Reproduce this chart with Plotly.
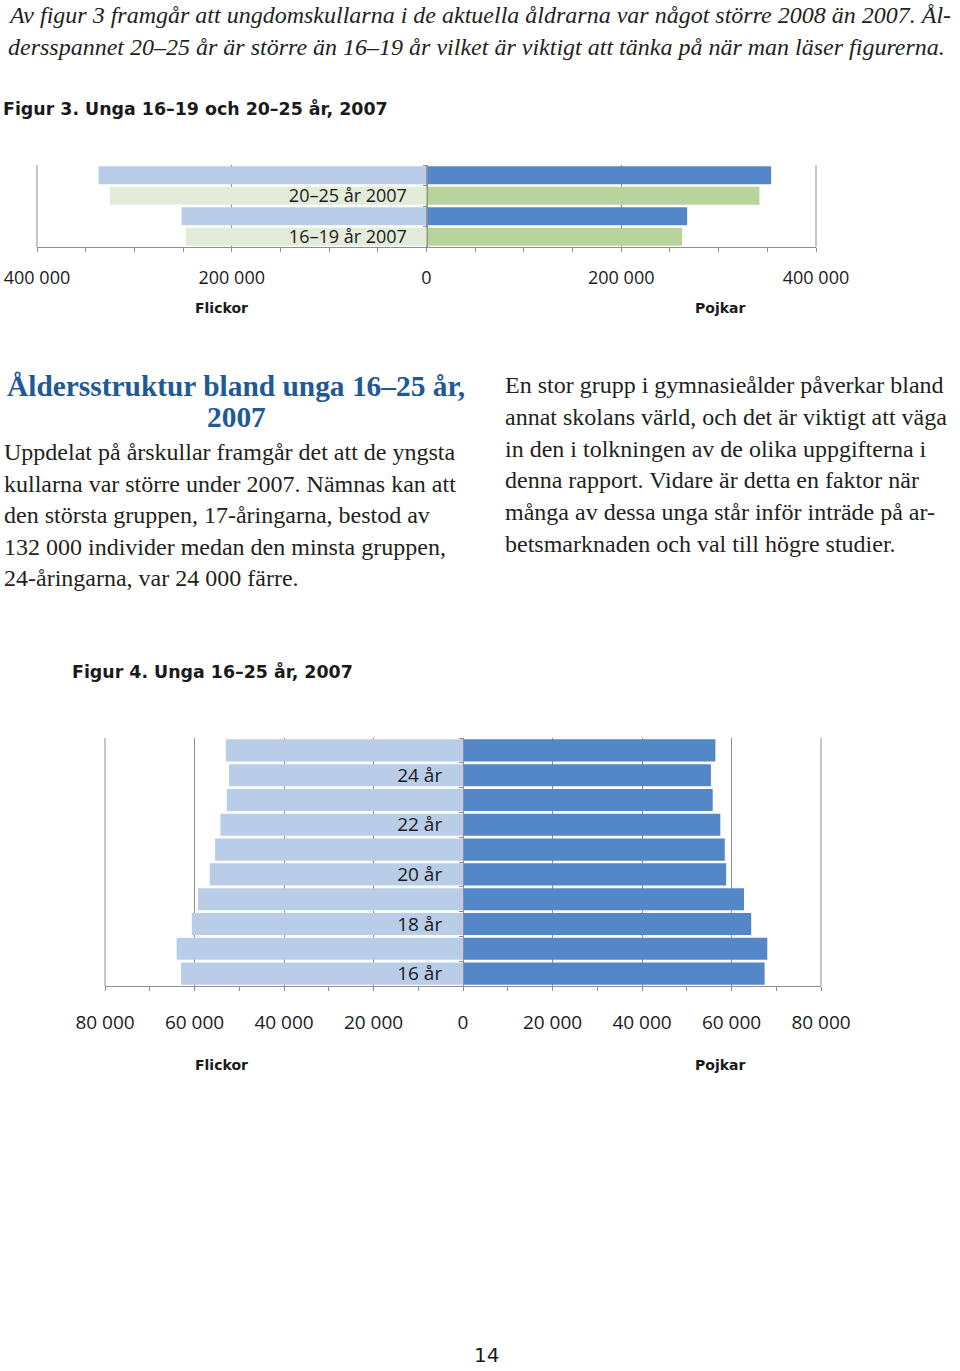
import plotly.graph_objects as go

W, H = 960, 1371

# ---------------- Figur 3 data ----------------
fig3_categories = ["16–19 år 2007", "16–19 år 2008", "20–25 år 2007", "20–25 år 2008"]
fig3_category_labels = ["16–19 år 2007", "", "20–25 år 2007", ""]
fig3_cats_2008 = ["16–19 år 2008", "20–25 år 2008"]
fig3_cats_2007 = ["16–19 år 2007", "20–25 år 2007"]
fig3_flickor_2008 = [251500, 336800]
fig3_pojkar_2008 = [267700, 353900]
fig3_flickor_2007 = [247100, 325200]
fig3_pojkar_2007 = [262500, 341900]
fig3_tick_values = [-400000, -200000, 0, 200000, 400000]
fig3_tick_labels = ["400 000", "200 000", "0", "200 000", "400 000"]

# ---------------- Figur 4 data ----------------
fig4_ages = ["16 år", "17 år", "18 år", "19 år", "20 år", "21 år", "22 år", "23 år", "24 år", "25 år"]
fig4_age_labels = ["16 år", "", "18 år", "", "20 år", "", "22 år", "", "24 år", ""]
fig4_flickor = [63000, 64000, 60600, 59200, 56600, 55400, 54200, 52800, 52300, 53000]
fig4_pojkar = [67400, 68000, 64400, 62800, 58800, 58500, 57500, 55800, 55400, 56400]
fig4_tick_values = [-80000, -60000, -40000, -20000, 0, 20000, 40000, 60000, 80000]
fig4_tick_labels = ["80 000", "60 000", "40 000", "20 000", "0", "20 000", "40 000", "60 000", "80 000"]

LIGHT_BLUE = "#b9cde9"
DARK_BLUE = "#5387c7"
LIGHT_GREEN = "#e3ecd9"
GREEN = "#b9d39c"
GRID = "#8f8f8f"
TICKFONT3 = dict(family="Open Sans", size=18, color="#1a1a1a")
TICKFONT4 = dict(family="Open Sans", size=19, color="#1a1a1a")


def px2x(px):
    return px / W


def py2y(py):
    return 1 - py / H


fig = go.Figure()

# Figur 3 traces
fig.add_trace(go.Bar(y=fig3_cats_2008, x=[-v for v in fig3_flickor_2008], orientation="h",
                     marker=dict(color=LIGHT_BLUE, line=dict(width=0)), name="Flickor 2008",
                     xaxis="x", yaxis="y"))
fig.add_trace(go.Bar(y=fig3_cats_2008, x=fig3_pojkar_2008, orientation="h",
                     marker=dict(color=DARK_BLUE, line=dict(width=0)), name="Pojkar 2008",
                     xaxis="x", yaxis="y"))
fig.add_trace(go.Bar(y=fig3_cats_2007, x=[-v for v in fig3_flickor_2007], orientation="h",
                     marker=dict(color=LIGHT_GREEN, line=dict(width=0)), name="Flickor 2007",
                     xaxis="x", yaxis="y"))
fig.add_trace(go.Bar(y=fig3_cats_2007, x=fig3_pojkar_2007, orientation="h",
                     marker=dict(color=GREEN, line=dict(width=0)), name="Pojkar 2007",
                     xaxis="x", yaxis="y"))

# Figur 4 traces
fig.add_trace(go.Bar(y=fig4_ages, x=[-v for v in fig4_flickor], orientation="h",
                     marker=dict(color=LIGHT_BLUE, line=dict(width=0)), name="Flickor",
                     xaxis="x2", yaxis="y2"))
fig.add_trace(go.Bar(y=fig4_ages, x=fig4_pojkar, orientation="h",
                     marker=dict(color=DARK_BLUE, line=dict(width=0)), name="Pojkar",
                     xaxis="x2", yaxis="y2"))

x3_dom = [px2x(37), px2x(816)]
y3_dom = [py2y(247), py2y(165)]
x4_dom = [px2x(105), px2x(821)]
y4_dom = [py2y(986), py2y(738)]

fig.update_layout(
    width=W, height=H,
    margin=dict(l=0, r=0, t=0, b=0, autoexpand=False),
    paper_bgcolor="white", plot_bgcolor="white",
    showlegend=False,
    barmode="relative",
    bargap=0.11,
    xaxis=dict(domain=x3_dom, anchor="y", range=[-400000, 400000], automargin=False,
               tickmode="array", tickvals=fig3_tick_values, ticktext=fig3_tick_labels,
               ticks="outside", ticklen=4, tickcolor=GRID, tickfont=TICKFONT3,
               ticklabelstandoff=10,
               showline=True, linecolor=GRID, linewidth=1,
               showgrid=True, gridcolor=GRID, gridwidth=1, zeroline=False,
               minor=dict(dtick=50000, tick0=0, ticks="outside", ticklen=4, tickcolor=GRID, showgrid=False),
               fixedrange=True),
    yaxis=dict(domain=y3_dom, anchor="free", position=(x3_dom[0] + x3_dom[1]) / 2, automargin=False,
               type="category", categoryorder="array", categoryarray=fig3_categories,
               tickmode="array", tickvals=fig3_categories, ticktext=fig3_category_labels,
               tickson="boundaries", ticks="outside", ticklen=4, tickcolor=GRID,
               tickfont=TICKFONT3, ticklabelstandoff=16,
               showline=True, linecolor=GRID, linewidth=1, showgrid=False, zeroline=False,
               fixedrange=True),
    xaxis2=dict(domain=x4_dom, anchor="y2", range=[-80000, 80000], automargin=False,
                tickmode="array", tickvals=fig4_tick_values, ticktext=fig4_tick_labels,
                ticks="outside", ticklen=4, tickcolor=GRID, tickfont=TICKFONT4,
                ticklabelstandoff=15,
                showline=True, linecolor=GRID, linewidth=1,
                showgrid=True, gridcolor=GRID, gridwidth=1, zeroline=False,
                minor=dict(dtick=10000, tick0=0, ticks="outside", ticklen=4, tickcolor=GRID, showgrid=False),
                fixedrange=True),
    yaxis2=dict(domain=y4_dom, anchor="free", position=(x4_dom[0] + x4_dom[1]) / 2, automargin=False,
                type="category", categoryorder="array", categoryarray=fig4_ages,
                tickmode="array", tickvals=fig4_ages, ticktext=fig4_age_labels,
                tickson="boundaries", ticks="outside", ticklen=4, tickcolor=GRID,
                tickfont=TICKFONT4, ticklabelstandoff=17,
                showline=True, linecolor=GRID, linewidth=1, showgrid=False, zeroline=False,
                fixedrange=True),
)

# Edge gridlines (plot-area borders left/right), drawn below the bars
shapes = []
for xr, yr in (("x domain", "y domain"), ("x2 domain", "y2 domain")):
    for xe in (0, 1):
        shapes.append(dict(type="line", xref=xr, yref=yr, x0=xe, x1=xe, y0=0, y1=1,
                           line=dict(color=GRID, width=1), layer="below"))
fig.update_layout(shapes=shapes)

annotations = []


def add_text(text, x, y, size, family, color="#231f20", xanchor="left", bold=False, italic=False):
    t = text
    if bold:
        t = "<b>" + t + "</b>"
    if italic:
        t = "<i>" + t + "</i>"
    annotations.append(dict(text=t, x=px2x(x), y=py2y(y), xref="paper", yref="paper",
                            xanchor=xanchor, yanchor="middle", showarrow=False,
                            font=dict(family=family, size=size, color=color)))


SERIF = "Liberation Serif"
SANS_B = "DejaVu Sans"

# Intro paragraph (italic)
intro_lines = [
    "Av figur 3 framgår att ungdomskullarna i de aktuella åldrarna var något större 2008 än 2007. Ål-",
    "dersspannet 20–25 år är större än 16–19 år vilket är viktigt att tänka på när man läser figurerna.",
]
for i, line in enumerate(intro_lines):
    add_text(line, 6, 15 + 32 * i, 24, SERIF, italic=True)

# Figure titles
add_text("Figur 3. Unga 16–19 och 20–25 år, 2007", 1, 109, 17.4, SANS_B, bold=True, color="#1a1a1a")
add_text("Figur 4. Unga 16–25 år, 2007", 70, 671, 17.4, SANS_B, bold=True, color="#1a1a1a")

# Axis side labels
for yy in (308, 1065):
    add_text("Flickor", 221, yy, 14, SANS_B, bold=True, color="#1a1a1a", xanchor="center")
    add_text("Pojkar", 720, yy, 14, SANS_B, bold=True, color="#1a1a1a", xanchor="center")

# Heading
HEAD = "#1d5a97"
add_text("Åldersstruktur bland unga 16–25 år,", 236, 386, 29.4, SERIF, color=HEAD, xanchor="center", bold=True)
add_text("2007", 236, 417, 29.4, SERIF, color=HEAD, xanchor="center", bold=True)

left_lines = [
    "Uppdelat på årskullar framgår det att de yngsta",
    "kullarna var större under 2007. Nämnas kan att",
    "den största gruppen, 17-åringarna, bestod av",
    "132 000 individer medan den minsta gruppen,",
    "24-åringarna, var 24 000 färre.",
]
for i, line in enumerate(left_lines):
    add_text(line, 2, 452 + 31.6 * i, 24, SERIF)

right_lines = [
    "En stor grupp i gymnasieålder påverkar bland",
    "annat skolans värld, och det är viktigt att väga",
    "in den i tolkningen av de olika uppgifterna i",
    "denna rapport. Vidare är detta en faktor när",
    "många av dessa unga står inför inträde på ar-",
    "betsmarknaden och val till högre studier.",
]
for i, line in enumerate(right_lines):
    add_text(line, 503, 385 + 31.8 * i, 24, SERIF)

# Page number
add_text("14", 486, 1355, 20, "DejaVu Sans", xanchor="center", color="#1a1a1a")

fig.update_layout(annotations=annotations)

fig.write_html("out.html")
